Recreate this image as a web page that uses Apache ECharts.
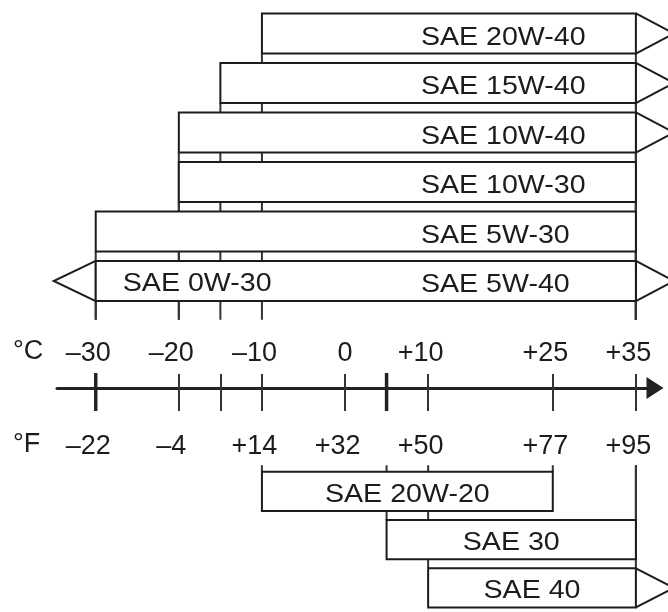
<!DOCTYPE html>
<html><head><meta charset="utf-8">
<script src="https://cdn.jsdelivr.net/npm/echarts@6/dist/echarts.min.js"></script>
<style>html,body{margin:0;padding:0;background:#fff}#c{width:668px;height:612px}</style>
</head><body><div id="c"></div>
<script>
// ---- data ----
const topGrades = ['SAE 20W-40','SAE 15W-40','SAE 10W-40','SAE 10W-30','SAE 5W-30','SAE 5W-40'];
const topSecondGrades = ['','','','','','SAE 0W-30'];
const topStart = [-10,-15,-20,-20,-30,-30];
const topEnd = [35,35,35,35,35,35];
const topArrowRight = [1,1,1,0,0,1];
const topArrowLeft = [0,0,0,0,0,1];

const bottomGrades = ['SAE 20W-20','SAE 30','SAE 40'];
const bottomStart = [-10,5,10];
const bottomEnd = [25,35,35];
const bottomArrowRight = [0,0,1];
const bottomArrowLeft = [0,0,0];

const celsiusTicks = [-30,-20,-15,-10,0,5,10,25,35];
const thickTicks = [-30,5];
const celsiusLabelValues = [-30,-20,-10,0,10,25,35];
const celsiusLabels = ['\u201330','\u201320','\u201310','0','+10','+25','+35'];
const fahrenheitLabels = ['\u201322','\u20134','+14','+32','+50','+77','+95'];

// ---- chart ----
const FONT = 'Liberation Sans, Arial, sans-serif';
const FS = 26;      // bar label font size
const SX = 1.1;     // horizontal stretch of bar labels
const AFS = 27;     // axis label font size
const INK = '#1c1c1c';
const X_MIN = -34.66, X_MAX = 37.30;

function rows(start, end, al, ar) {
  return start.map((s, i) => [s, end[i], i, al[i], ar[i]]);
}
const topData = rows(topStart, topEnd, topArrowLeft, topArrowRight);
const bottomData = rows(bottomStart, bottomEnd, bottomArrowLeft, bottomArrowRight);

function label(text, x, y, align) {
  return {type: 'text', x: x, y: y, scaleX: SX, scaleY: 1,
    style: {text: text, x: 0, y: 0, align: align, verticalAlign: 'middle', font: FS + 'px ' + FONT, fill: INK}};
}

function barRenderer(names, second, mode) {
  return function (params, api) {
    const s = api.coord([api.value(0), api.value(2)]);
    const e = api.coord([api.value(1), api.value(2)]);
    const band = api.size([0, 1])[1];
    const bh = band * 0.81;
    const top = s[1] - bh / 2, bot = s[1] + bh / 2, cy = s[1];
    const kids = [{
      type: 'rect',
      shape: {x: s[0], y: top, width: e[0] - s[0], height: bh},
      style: {fill: '#fff', stroke: INK, lineWidth: 2}
    }];
    if (api.value(4)) kids.push({type: 'polyline', shape: {points: [[e[0], top], [e[0] + 38, cy], [e[0], bot]]}, style: {fill: null, stroke: INK, lineWidth: 2}});
    if (api.value(3)) kids.push({type: 'polyline', shape: {points: [[s[0], top], [s[0] - 42, cy], [s[0], bot]]}, style: {fill: null, stroke: INK, lineWidth: 2}});
    const i = params.dataIndex;
    if (mode === 'top') {
      kids.push(label(names[i], e[0] - 215, cy + 4, 'left'));
      if (second && second[i]) kids.push(label(second[i], s[0] + 27, cy + 3, 'left'));
    } else {
      kids.push(label(names[i], (s[0] + e[0]) / 2, cy + 3, 'center'));
    }
    return {type: 'group', children: kids};
  };
}

function guideRenderer(mode, nRows) {
  return function (params, api) {
    const s = api.coord([api.value(0), api.value(2)]);
    const e = api.coord([api.value(1), api.value(2)]);
    const band = api.size([0, 1])[1];
    const bh = band * 0.81;
    let y1, y2;
    if (mode === 'top') {
      y1 = s[1] + bh / 2;
      y2 = api.coord([0, nRows - 1])[1] + band / 2 + 14;
    } else {
      y1 = s[1] - bh / 2;
      y2 = api.coord([0, 0])[1] - band / 2 - 2;
    }
    const st = {stroke: '#333', lineWidth: 2};
    return {type: 'group', children: [
      {type: 'line', shape: {x1: s[0], y1: y1, x2: s[0], y2: y2}, style: st},
      {type: 'line', shape: {x1: e[0], y1: y1, x2: e[0], y2: y2}, style: st}
    ]};
  };
}

function richLabel(text) {
  const signed = text[0] === '+' || text[0] === '\u2013';
  return signed ? '{s|' + text + '}' : '{n|' + text + '}';
}
const richStyles = {
  s: {fontSize: AFS, fontFamily: FONT, color: INK, padding: [0, 15, 0, 0]},
  n: {fontSize: AFS, fontFamily: FONT, color: INK}
};

const hiddenX = (g) => ({type: 'value', gridIndex: g, min: X_MIN, max: X_MAX, show: false});
const L = 57, R = 13;

const option = {
  animation: false,
  backgroundColor: '#fff',
  grid: [
    {left: L, right: R, top: 8.75, height: 297},
    {left: L, right: R, top: 467.25, height: 148.5},
    {left: L, right: R, top: 387, height: 1}
  ],
  xAxis: [
    hiddenX(0), hiddenX(1),
    {
      type: 'value', gridIndex: 2, position: 'top', min: X_MIN, max: X_MAX,
      axisLine: {show: false},
      axisTick: {show: true, customValues: celsiusTicks, length: 14, lineStyle: {color: '#333', width: 2}},
      axisLabel: {show: true, customValues: celsiusLabelValues, margin: 20,
        formatter: v => richLabel(celsiusLabels[celsiusLabelValues.indexOf(v)]), rich: richStyles},
      splitLine: {show: false}
    },
    {
      type: 'value', gridIndex: 2, position: 'bottom', min: X_MIN, max: X_MAX,
      axisLine: {show: true, onZero: false, symbol: ['none', 'triangle'], symbolSize: [22, 17],
        lineStyle: {color: '#222', width: 3}},
      axisTick: {show: true, customValues: celsiusTicks, length: 23, lineStyle: {color: '#333', width: 2}},
      axisLabel: {show: true, customValues: celsiusLabelValues, margin: 45,
        formatter: v => richLabel(fahrenheitLabels[celsiusLabelValues.indexOf(v)]), rich: richStyles},
      splitLine: {show: false}
    }
  ],
  yAxis: [
    {type: 'category', gridIndex: 0, inverse: true, data: topGrades, show: false},
    {type: 'category', gridIndex: 1, inverse: true, data: bottomGrades, show: false},
    {type: 'value', gridIndex: 2, min: 0, max: 1, show: false}
  ],
  graphic: [
    {type: 'text', left: 13, top: 352 - 14, style: {text: '\u00B0C', font: AFS + 'px ' + FONT, fill: INK}},
    {type: 'text', left: 13, top: 445 - 14, style: {text: '\u00B0F', font: AFS + 'px ' + FONT, fill: INK}}
  ],
  series: [
    {type: 'custom', xAxisIndex: 0, yAxisIndex: 0, z: 1, data: topData, encode: {x: [0, 1], y: 2}, renderItem: guideRenderer('top', topGrades.length)},
    {type: 'custom', xAxisIndex: 1, yAxisIndex: 1, z: 1, data: bottomData, encode: {x: [0, 1], y: 2}, renderItem: guideRenderer('bottom', bottomGrades.length)},
    {type: 'custom', xAxisIndex: 0, yAxisIndex: 0, z: 2, data: topData, encode: {x: [0, 1], y: 2}, renderItem: barRenderer(topGrades, topSecondGrades, 'top')},
    {type: 'custom', xAxisIndex: 1, yAxisIndex: 1, z: 2, data: bottomData, encode: {x: [0, 1], y: 2}, renderItem: barRenderer(bottomGrades, null, 'bottom')},
    {type: 'custom', xAxisIndex: 3, yAxisIndex: 2, z: 3, data: thickTicks.map(v => [v, 0]),
      renderItem: function (params, api) {
        const p = api.coord([api.value(0), 0]);
        return {type: 'line', shape: {x1: p[0], y1: p[1] - 15, x2: p[0], y2: p[1] + 23}, style: {stroke: '#222', lineWidth: 3.5}};
      }}
  ]
};
const chart = echarts.init(document.getElementById('c'), null, {renderer: 'canvas'});
chart.setOption(option);
</script></body></html>
